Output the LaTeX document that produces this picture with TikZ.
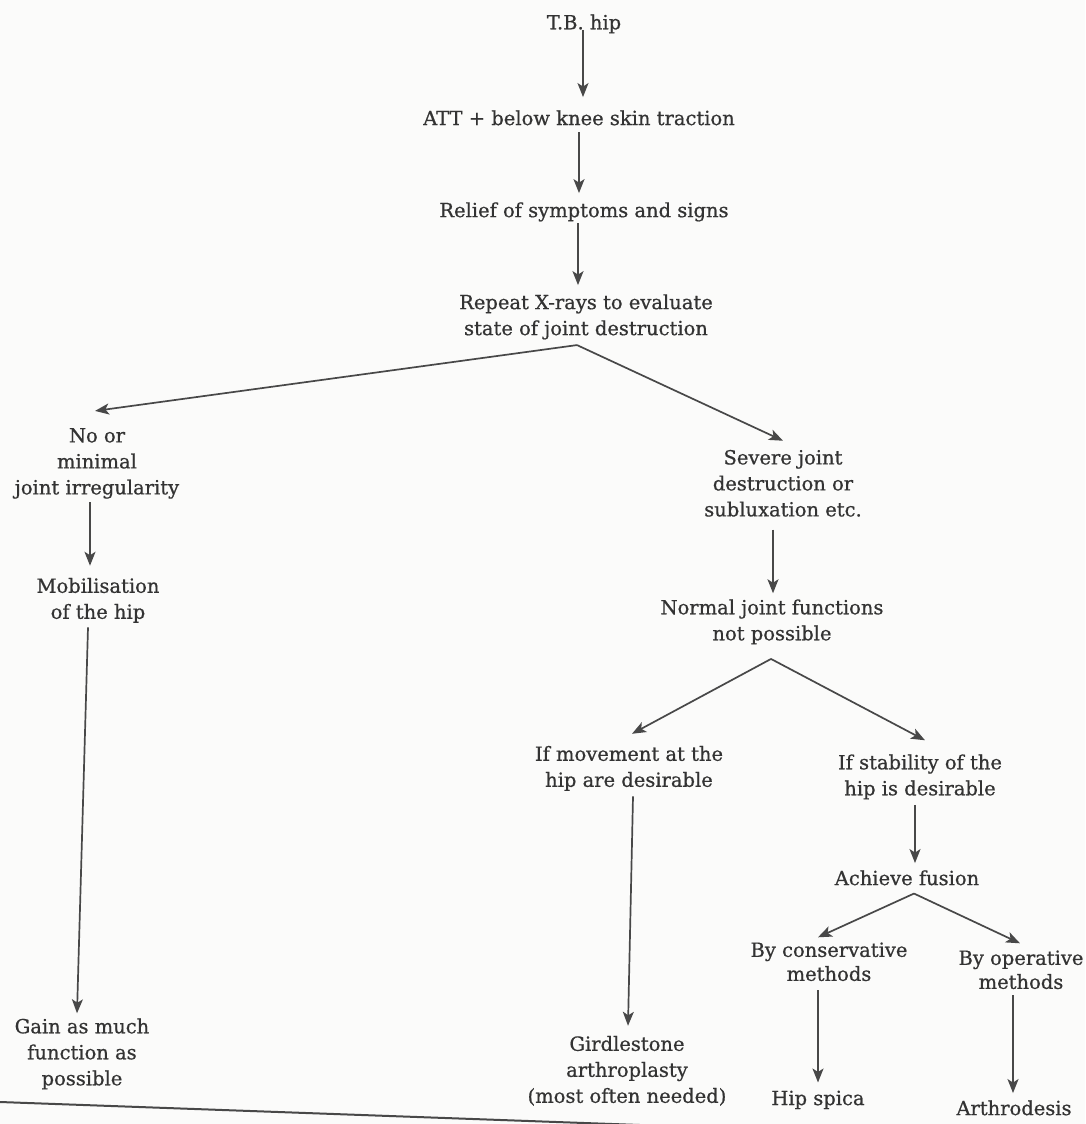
\documentclass[tikz,border=0pt]{standalone}
\usepackage{fontspec}
\setmainfont{DejaVu Serif}[FakeBold=0.7]
\usetikzlibrary{arrows.meta}
\definecolor{txt}{HTML}{333333}
\definecolor{ln}{HTML}{484848}
\definecolor{bg}{HTML}{FBFBFA}
\begin{document}
\begin{tikzpicture}[x=1pt,y=-1pt,
  lbl/.style={font=\fontsize{19.5}{26}\selectfont, text=txt, align=center, inner sep=0pt},
  lbltight/.style={lbl, font=\fontsize{19.5}{24}\selectfont},
  arr/.style={draw=ln, line width=1.7pt, -{Stealth[length=14pt,width=11pt,inset=3.5pt]}},
  rule/.style={draw=ln, line width=2pt}]
\fill[bg] (0,0) rectangle (1085,1124);
\useasboundingbox (0,0) rectangle (1085,1124);

% nodes
\node[lbl] (tb) at (584,23.9) {T.B. hip};
\node[lbl] (att) at (579,117.8) {ATT + below knee skin traction};
\node[lbl] (relief) at (584,211.9) {Relief of symptoms and signs};
\node[lbl] (xray) at (586,316.9) {Repeat X-rays to evaluate\\state of joint destruction};
\node[lbl] (nomin) at (97,463.4) {No or\\minimal\\joint irregularity};
\node[lbl] (mobil) at (98,600.4) {Mobilisation\\of the hip};
\node[lbl] (gain) at (82,1053.9) {Gain as much\\function as\\possible};
\node[lbl] (severe) at (783,483.3) {Severe joint\\destruction or\\subluxation etc.};
\node[lbl] (normal) at (772,621.9) {Normal joint functions\\not possible};
\node[lbl] (ifmove) at (629,768.4) {If movement at the\\hip are desirable};
\node[lbl] (ifstab) at (920,776.9) {If stability of the\\hip is desirable};
\node[lbl] (achieve) at (907,877.8) {Achieve fusion};
\node[lbl] (girdle) at (627,1070.9) {Girdlestone\\arthroplasty\\(most often needed)};
\node[lbltight] (cons) at (829,961.8) {By conservative\\methods};
\node[lbltight] (oper) at (1021,969.8) {By operative\\methods};
\node[lbl] (hipspica) at (818,1099.9) {Hip spica};
\node[lbl] (arthro) at (1014,1107.8) {Arthrodesis};

% fork points
\coordinate (f1) at ([xshift=-9pt,yshift=-5.4pt]xray.south);
\coordinate (f2) at ([xshift=-1pt,yshift=-14.4pt]normal.south);
\coordinate (f3) at ([xshift=7pt,yshift=-8pt]achieve.south);

% connectors
\draw[arr] ([xshift=-1pt,yshift=3.6pt]tb.south) -- ([xshift=4pt,yshift=13pt]att.north);
\draw[arr] ([yshift=-6.7pt]att.south) -- ([xshift=-5pt,yshift=9pt]relief.north);
\draw[arr] ([xshift=-6pt,yshift=-1.4pt]relief.south) -- ([xshift=-8pt,yshift=9pt]xray.north);
\draw[arr] (f1) -- ([xshift=-2pt,yshift=17pt]nomin.north);
\draw[arr] (f1) -- ([yshift=9pt]severe.north);
\draw[arr] ([xshift=-7pt,yshift=-3.4pt]nomin.south) -- ([xshift=-8pt,yshift=12pt]mobil.north);
\draw[arr] ([xshift=-10pt,yshift=-4.4pt]mobil.south) -- ([xshift=-5pt,yshift=5pt]gain.north);
\draw[arr] ([xshift=-10pt,yshift=-12.7pt]severe.south) -- ([xshift=1pt,yshift=6pt]normal.north);
\draw[arr] (f2) -- ([xshift=3pt,yshift=12pt]ifmove.north);
\draw[arr] (f2) -- ([xshift=5pt,yshift=14pt]ifstab.north);
\draw[arr] ([xshift=4pt,yshift=-5.4pt]ifmove.south) -- ([xshift=1pt,yshift=10pt]girdle.north);
\draw[arr] ([xshift=-5pt,yshift=-5.4pt]ifstab.south) -- ([xshift=8pt,yshift=7pt]achieve.north);
\draw[arr] (f3) -- ([xshift=-11pt,yshift=5pt]cons.north);
\draw[arr] (f3) -- ([xshift=-1pt,yshift=7pt]oper.north);
\draw[arr] ([xshift=-11pt,yshift=-9pt]cons.south) -- ([yshift=8pt]hipspica.north);
\draw[arr] ([xshift=-8pt,yshift=-6pt]oper.south) -- ([xshift=-1pt,yshift=7pt]arthro.north);

% page rule
\coordinate (r1) at (0,1102);
\coordinate (r2) at (640,1125);
\draw[rule] (r1) -- (r2);
\end{tikzpicture}
\end{document}
